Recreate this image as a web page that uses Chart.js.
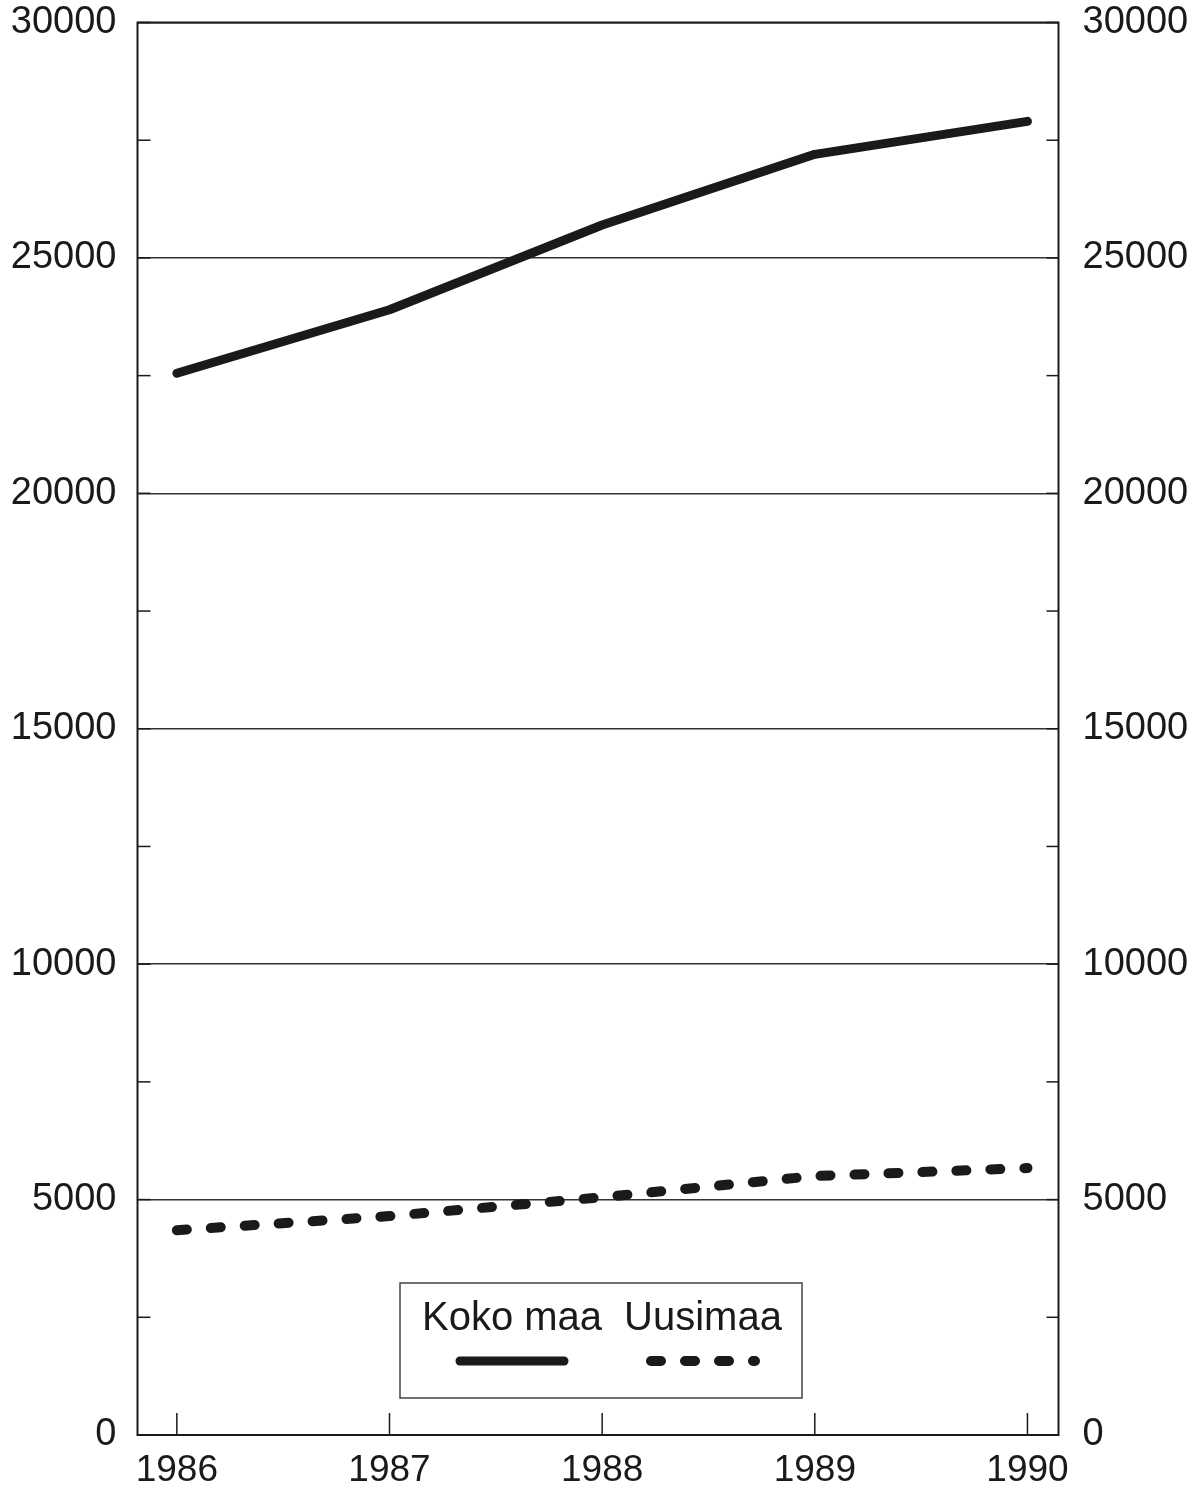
<!DOCTYPE html>
<html>
<head>
<meta charset="utf-8">
<script src="https://cdn.jsdelivr.net/npm/chart.js@4.4.1/dist/chart.umd.min.js"></script>
<style>
    html, body { margin: 0; padding: 0; background: #fff; }
    #wrap { width: 1204px; height: 1492px; }
</style>
</head>
<body>
<div id="wrap"><canvas id="chart" width="1204" height="1492"></canvas></div>
<script>
// data
const years = [1986, 1987, 1988, 1989, 1990];
const kokoMaa = [22550, 23900, 25700, 27200, 27900];
const uusimaa = [4350, 4650, 5050, 5500, 5670];
const seriesNames = ['Koko maa', 'Uusimaa'];
const yLabels = [0, 5000, 10000, 15000, 20000, 25000, 30000];
const minorStep = 2500;

const INK = '#1a1a1a';
const FONT = "'Liberation Sans', Arial, Helvetica, sans-serif";

function toPoints(vals) {
    return years.map((yr, i) => ({ x: yr, y: vals[i] }));
}

function stroke(ctx, x1, y1, x2, y2) {
    ctx.beginPath();
    ctx.moveTo(x1, y1);
    ctx.lineTo(x2, y2);
    ctx.stroke();
}

// fixed axis sizes so the plot box lands where it is in the original
function fixVertical(width) {
    return s => {
        s.width = width;
        s.paddingTop = 0;
        s.paddingBottom = 0;
    };
}

// frame box + inward tick marks
const frameTicks = {
    id: 'frameTicks',
    beforeDatasetsDraw(chart) {
        const { ctx, chartArea: a, scales } = chart;
        ctx.save();
        ctx.strokeStyle = INK;
        ctx.lineWidth = 1.5;
        const yMin = yLabels[0], yMax = yLabels[yLabels.length - 1];
        for (let v = yMin; v <= yMax; v += minorStep) {
            const py = scales.y.getPixelForValue(v);
            stroke(ctx, a.left, py, a.left + 13, py);
            stroke(ctx, a.right - 12, py, a.right, py);
        }
        years.forEach(yr => {
            const px = scales.x.getPixelForValue(yr);
            stroke(ctx, px, a.bottom, px, a.bottom - 22);
        });
        ctx.lineWidth = 2;
        ctx.strokeRect(a.left, a.top, a.right - a.left, a.bottom - a.top);
        ctx.restore();
    }
};

// boxed legend: names on top, line samples below
const boxLegend = {
    id: 'boxLegend',
    afterDraw(chart) {
        const { ctx, chartArea: a } = chart;
        const w = 402, h = 115;
        const left = (a.left + a.right) / 2 - w / 2 + 3;
        const top = a.bottom - 37 - h;
        ctx.save();
        ctx.strokeStyle = '#444';
        ctx.lineWidth = 1.5;
        ctx.strokeRect(left, top, w, h);
        const centers = [left + 112, left + 303];
        ctx.font = '40px ' + FONT;
        ctx.fillStyle = INK;
        ctx.textAlign = 'center';
        ctx.textBaseline = 'alphabetic';
        chart.data.datasets.forEach((ds, i) => {
            ctx.fillText(ds.label, centers[i], top + 47);
            ctx.strokeStyle = ds.borderColor;
            ctx.lineWidth = ds.borderWidth;
            ctx.lineCap = 'round';
            ctx.setLineDash(ds.borderDash || []);
            stroke(ctx, centers[i] - 52, top + 78, centers[i] + 52, top + 78);
            ctx.setLineDash([]);
        });
        ctx.restore();
    }
};

const ctx = document.getElementById('chart').getContext('2d');
const chart = new Chart(ctx, {
    type: 'line',
    data: {
        datasets: [
            {
                label: seriesNames[0],
                data: toPoints(kokoMaa),
                borderColor: INK,
                borderWidth: 9,
                borderCapStyle: 'round',
                borderJoinStyle: 'round',
                pointRadius: 0,
                fill: false,
                tension: 0
            },
            {
                label: seriesNames[1],
                data: toPoints(uusimaa),
                borderColor: INK,
                borderWidth: 10,
                borderDash: [10, 24],
                borderCapStyle: 'round',
                borderJoinStyle: 'round',
                pointRadius: 0,
                fill: false,
                tension: 0
            }
        ]
    },
    options: {
        responsive: false,
        animation: false,
        devicePixelRatio: 1,
        layout: { padding: { top: 22.5, left: 0, right: 0, bottom: 0 } },
        plugins: {
            legend: { display: false },
            tooltip: { enabled: false }
        },
        scales: {
            x: {
                type: 'linear',
                min: 1985.815,
                max: 1990.146,
                afterBuildTicks: s => { s.ticks = years.map(v => ({ value: v })); },
                afterFit: s => { s.height = 57; s.paddingLeft = 0; s.paddingRight = 0; },
                grid: { display: false, drawTicks: false },
                border: { display: false },
                ticks: {
                    color: INK,
                    font: { family: FONT, size: 37 },
                    padding: 14,
                    maxRotation: 0,
                    callback: v => String(v)
                }
            },
            y: {
                position: 'left',
                min: 0,
                max: 30000,
                afterBuildTicks: s => { s.ticks = yLabels.map(v => ({ value: v })); },
                afterFit: fixVertical(137.5),
                grid: { color: '#333', lineWidth: 1.5, drawTicks: false },
                border: { display: false },
                ticks: {
                    color: INK,
                    font: { family: FONT, size: 38 },
                    padding: 21,
                    callback: v => String(v)
                }
            },
            y2: {
                position: 'right',
                min: 0,
                max: 30000,
                afterBuildTicks: s => { s.ticks = yLabels.map(v => ({ value: v })); },
                afterFit: fixVertical(145.5),
                grid: { display: false, drawTicks: false },
                border: { display: false },
                ticks: {
                    color: INK,
                    font: { family: FONT, size: 38 },
                    padding: 24,
                    callback: v => String(v)
                }
            }
        }
    },
    plugins: [frameTicks, boxLegend]
});
</script>
</body>
</html>
